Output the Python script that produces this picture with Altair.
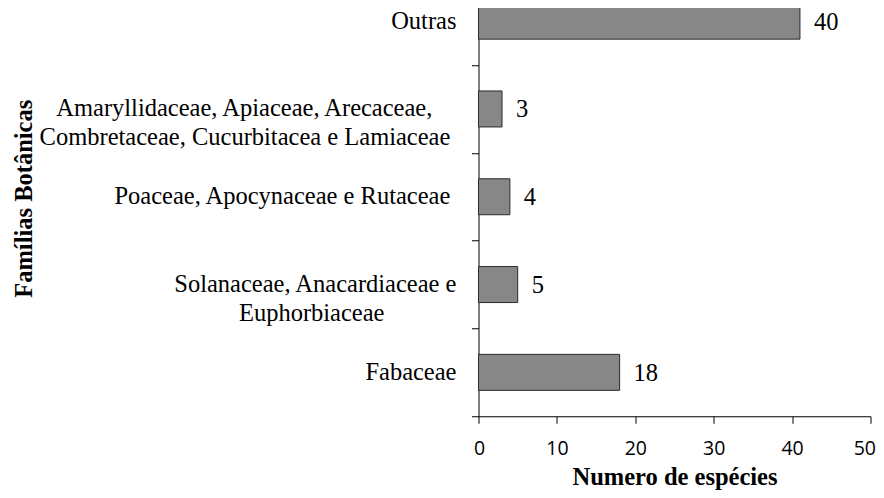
import altair as alt
import pandas as pd

PAD = "\u2800"   # blank glyph (about 18 px) used to keep the shorter label lines centred
NB = "\u00a0"    # narrow non-breaking space (about 6 px)
WJ = "\u2060"    # word joiner, keeps a trailing non-breaking space from being dropped
familias = [
    "Outras",
    "Amaryllidaceae, Apiaceae, Arecaceae," + NB + PAD + "|Combretaceae, Cucurbitacea e Lamiaceae" + NB + WJ,
    "Poaceae, Apocynaceae e Rutaceae" + NB + WJ,
    "Solanaceae, Anacardiaceae e|Euphorbiaceae" + PAD * 4,
    "Fabaceae",
]
especies = [41, 3, 4, 5, 18]
rotulos = ["40", "3", "4", "5", "18"]
x_ticks = [0, 10, 20, 30, 40, 50]

df = pd.DataFrame({"familia": familias, "especies": especies, "rotulo": rotulos})

serif = "Liberation Serif"
sans = "Open Sans"

x_enc = alt.X(
    "especies:Q",
    scale=alt.Scale(domain=[0, 50], nice=False),
    axis=alt.Axis(
        title="Numero de espécies",
        values=x_ticks,
        grid=False,
        tickSize=7,
        tickColor="black",
        domainColor="black",
        labelFont=sans,
        labelFontSize=19.5,
        labelColor="black",
        labelPadding=16,
        labelFlush=True,
        labelFlushOffset=5,
        titleFont=serif,
        titleFontSize=24.5,
        titleFontWeight="bold",
        titleColor="black",
        titleBaseline="alphabetic",
        titleY=68,
    ),
)

y_enc = alt.Y(
    "familia:N",
    sort=familias,
    scale=alt.Scale(paddingInner=0, paddingOuter=0),
    axis=alt.Axis(
        title="Famílias Botânicas",
        labelExpr="split(datum.label, '|')",
        tickBand="extent",
        tickSize=7,
        tickColor="black",
        domainColor="black",
        labelFont=serif,
        labelFontSize=24.5,
        labelColor="black",
        labelPadding=15.5,
        labelLimit=1000,
        labelLineHeight=29,
        titleFont=serif,
        titleFontSize=24.5,
        titleFontWeight="bold",
        titleColor="black",
        titleBaseline="alphabetic",
        titleX=-447.5,
        titleY=221,
    ),
)

bars = alt.Chart(df).mark_bar(
    height={"band": 0.41},
    fill="#878787",
    stroke="#2b2b2b",
    strokeWidth=1,
).encode(x=x_enc, y=y_enc)

text = alt.Chart(df).mark_text(
    align="left",
    baseline="middle",
    dx=14,
    dy=1.5,
    font=serif,
    fontSize=24.5,
    color="black",
).encode(x=alt.X("especies:Q"), y=alt.Y("familia:N", sort=familias), text="rotulo:N")

chart = alt.layer(bars, text).properties(
    width=392,
    height=439,
    padding={"left": 470.5, "top": -30.75, "right": 5.5, "bottom": 73.75},
    autosize=alt.AutoSizeParams(type="none"),
    background="white",
).configure_view(stroke=None)

chart.save("out.html", embed_options={"renderer": "svg", "actions": False})
